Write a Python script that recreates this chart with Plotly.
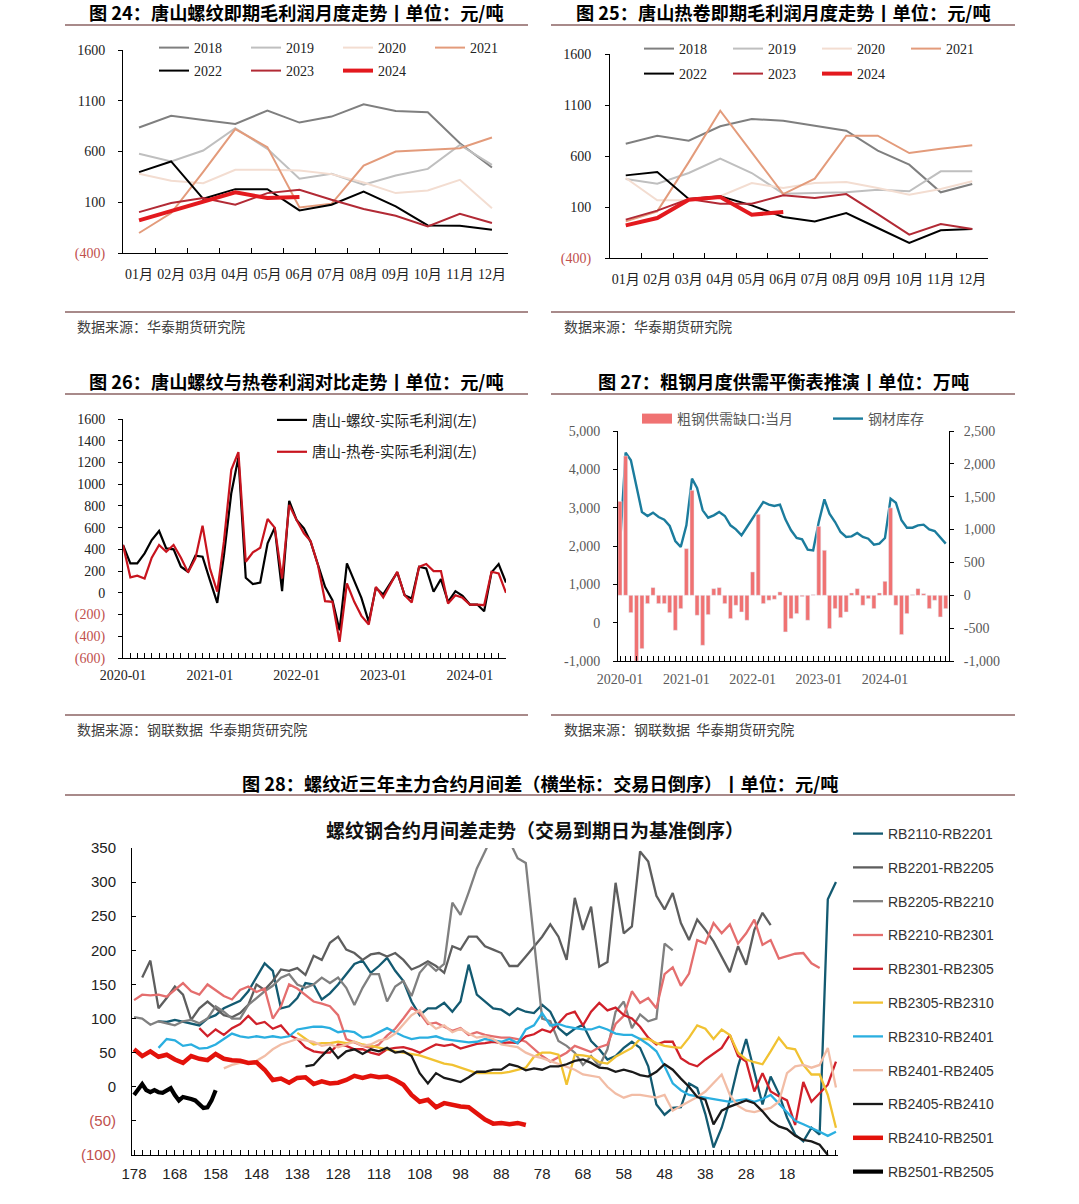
import plotly.graph_objects as go
import pandas as pd

W, H = 1079, 1204


def xd(a, b):
    return [a / W, b / W]


def yd(top, bottom):
    return [1 - bottom / H, 1 - top / H]


def px(x):
    return x / W


def py(y):
    return 1 - y / H


SERIF = "Liberation Serif, Noto Sans CJK SC, serif"
SANS = "Liberation Sans, Arial, Noto Sans CJK SC, sans-serif"
CJK = "Noto Sans CJK SC, sans-serif"
NEG = "#C0504D"
SEP = "#A88A8A"

# ---------------- data: chart 24 (rebar profit, by month) ----------------
MONTHS = ["01月", "02月", "03月", "04月", "05月", "06月", "07月", "08月", "09月", "10月", "11月", "12月"]
RB24_2018 = [836, 951, 911, 872, 1003, 885, 944, 1066, 1000, 987, 682, 442]
RB24_2019 = [577, 502, 610, 830, 626, 331, 380, 272, 364, 429, 665, 469]
RB24_2020 = [380, 311, 288, 420, 420, 413, 377, 295, 190, 216, 321, 42]
RB24_2021 = [-203, -7, 400, 820, 643, 49, 85, 462, 600, 616, 633, 738]
RB24_2022 = [397, 502, 134, 229, 229, 20, 75, 206, 59, -128, -131, -171]
RB24_2023 = [3, 92, 141, 75, 190, 223, 124, 33, -33, -138, -13, -105]
RB24_2024 = [-79, 10, 108, 197, 141, 151]

# ---------------- data: chart 25 (hot coil profit, by month) ----------------
HC25_2018 = [721, 799, 750, 891, 963, 946, 897, 848, 652, 515, 244, 325]
HC25_2019 = [375, 329, 433, 574, 433, 231, 237, 244, 270, 254, 450, 450]
HC25_2020 = [384, 165, 165, 205, 335, 286, 335, 345, 286, 221, 276, 352]
HC25_2021 = [-41, 57, 540, 1044, 636, 227, 378, 799, 799, 629, 672, 705]
HC25_2022 = [410, 443, 178, 205, 116, 2, -41, 41, -106, -253, -129, -116]
HC25_2023 = [-24, 64, 178, 133, 133, 214, 188, 227, 31, -171, -67, -116]
HC25_2024 = [-80, -8, 172, 198, 25, 51]

YEAR_NAMES = ["2018", "2019", "2020", "2021", "2022", "2023", "2024"]
YEAR_COLORS = ["#7F7F7F", "#BFBFBF", "#F3DDD1", "#E39B7B", "#000000", "#B22A35", "#E3191E"]
YEAR_WIDTHS = [2, 2, 2, 2, 2, 2, 4]

# ---------------- data: chart 26 (monthly, 2020-01 .. 2024-06) ----------------
MONTHS26 = pd.date_range("2020-01-01", periods=54, freq="MS")
REBAR26 = [440, 271, 271, 363, 486, 569, 409, 400, 240, 194,
           342, 332, 117, -92, 342, 917, 1246, 138, 80, 95,
           455, 600, 15, 846, 671, 594, 471, 249, 55, -68,
           -345, 271, 108, -46, -268, 46, -15, 86, 188, -22,
           -52, 240, 225, 10, 126, -83, 15, -28, -108, -108,
           -169, 188, 265, 95]
HRC26 = [440, 142, 157, 132, 323, 440, 378, 440, 323, 188,
         317, 618, 225, 10, 471, 1132, 1295, 286, 372, 415,
         680, 600, 132, 809, 671, 548, 477, 255, -77, -83,
         -452, 86, -83, -212, -292, 55, -43, 77, 194, -22,
         -89, 240, 265, 200, 200, -98, -22, -46, -108, -108,
         -114, 194, 178, 0]

# ---------------- data: chart 27 (monthly, 2020-01 .. 2024-12) ----------------
MONTHS27 = pd.date_range("2020-01-01", periods=60, freq="MS")
GAP27 = [1430, 2120, -264, -1000, -812, -127, 117, -127, -127, -264,
         -533, -203, 710, 1597, -304, -761, -294, 101, 117, -127,
         -355, -152, -254, -380, 355, 1232, -127, -76, -61, 51,
         -558, -355, -279, -20, -380, 10, 1049, 685, -507, -203,
         -340, -254, 35, 101, -152, -51, -203, 35, 213, 1330,
         -152, -598, -279, 10, 101, 25, -203, -76, -330, -203]
INV27 = [2017, 4435, 4235, 3583, 2887, 2783, 2870, 2757, 2687, 2522,
         2130, 1974, 2539, 3757, 3513, 2930, 2739, 2800, 2887, 2783,
         2539, 2435, 2278, 2496, 2730, 2930, 3148, 3078, 3043, 3078,
         2696, 2409, 2209, 2174, 1904, 1887, 2626, 3217, 2843, 2626,
         2365, 2235, 2252, 2339, 2235, 2191, 2035, 2061, 2209, 3235,
         3130, 2670, 2478, 2478, 2539, 2557, 2435, 2391, 2209, 2061]

# ---------------- data: chart 28 (spreads vs trading days to expiry) ----------------
# each series: first day, step (days), values read every `step` days counting down
S2110_2201 = [96, 95, 98, 95, 92, 90, 100, 105, 115, 120,
              126, 140, 160, 181, 170, 115, 118, 130, 152, 150,
              128, 137, 150, 165, 180, 185, 167, 177, 189, 170,
              155, 125, 105, 115, 115, 123, 110, 125, 179, 135,
              125, 115, 113, 105, 115, 110, 108, 120, 110, 86,
              76, 85, 91, 67, 55, 40, 45, 57, 66, 57,
              30, -26, -41, -31, -30, 5, -2, -40, -89, -60,
              -20, 30, 70, 20, -26, 15, -10, -45, -70, -80,
              -60, -70, 275, 300]
S2201_2205 = [160, 185, 115, 130, 147, 135, 98, 115, 125, 115,
              105, 102, 108, 120, 150, 142, 155, 172, 170, 174,
              164, 192, 186, 211, 220, 201, 196, 186, 194, 196,
              191, 196, 186, 172, 177, 184, 177, 167, 206, 201,
              220, 220, 206, 201, 196, 177, 177, 191, 205, 220,
              238, 220, 186, 277, 230, 264, 176, 183, 299, 225,
              235, 345, 330, 280, 260, 284, 240, 215, 245, 230,
              213, 191, 168, 206, 179, 230, 255, 237]
S2205_2210 = [102, 100, 91, 96, 93, 90, 96, 98, 93, 100,
              118, 110, 100, 100, 120, 130, 140, 148, 160, 165,
              150, 145, 150, 160, 152, 160, 145, 120, 145, 165,
              165, 125, 147, 155, 133, 167, 181, 170, 180, 270,
              252, 285, 320, 345, 370, 375, 360, 335, 328, 215,
              100, 96, 67, 60, 50, 32, 45, 30, 55, 110,
              125, 86, 106, 96, 100, 210, 200]
S2210_2301 = [127, 135, 134, 135, 132, 142, 152, 140, 135, 150,
              142, 133, 128, 142, 147, 139, 144, 100, 118, 150,
              144, 135, 125, 122, 118, 105, 70, 65, 60, 57,
              62, 75, 85, 100, 116, 108, 92, 94, 88, 82,
              86, 76, 80, 76, 74, 72, 72, 70, 66, 55,
              45, 37, 44, 50, 60, 56, 51, 58, 62, 92,
              104, 140, 123, 130, 115, 165, 175, 148, 166, 215,
              210, 240, 225, 238, 210, 225, 245, 208, 215, 188,
              191, 195, 196, 181, 174]
S2301_2305 = [86, 74, 84, 76, 86, 92, 104, 92, 95, 85,
              90, 76, 70, 58, 52, 50, 50, 62, 60, 55,
              55, 50, 47, 55, 57, 58, 55, 50, 56, 62,
              60, 62, 56, 60, 63, 64, 66, 64, 65, 64,
              74, 77, 84, 80, 93, 106, 110, 90, 110, 123,
              112, 116, 105, 100, 88, 72, 62, 66, 66, 42,
              34, 30, 40, 48, 57, 76, 45, 37, -7, 20,
              -7, -14, -20, -56, 7, -22, -10, 3, 37]
S2305_2310 = [79, 70, 62, 64, 64, 66, 64, 66, 62, 60,
              58, 55, 52, 50, 48, 46, 42, 38, 34, 32,
              28, 24, 20, 20, 20, 20, 22, 25, 28, 44,
              50, 50, 47, 3, 47, 46, 44, 36, 34, 44,
              50, 57, 70, 70, 64, 60, 58, 57, 72, 90,
              85, 70, 84, 76, 50, 40, 36, 33, 52, 72,
              57, 55, 32, 18, 18, -12, -60]
S2310_2401 = [57, 70, 68, 60, 62, 56, 57, 62, 70, 78,
              74, 72, 74, 72, 74, 72, 74, 84, 86, 88,
              88, 86, 80, 82, 80, 72, 74, 80, 86, 80,
              74, 70, 72, 72, 74, 70, 68, 66, 65, 66,
              70, 68, 66, 70, 64, 84, 90, 108, 90, 92,
              88, 86, 84, 84, 88, 84, 78, 76, 76, 70,
              62, 52, 30, 5, -5, -12, -14, -16, -18, -20,
              -22, -20, -18, -22, -18, -12, -25, -38, -50, -55,
              -60, -66, -72, -66]
S2401_2405 = [27, 32, 35, 35, 38, 45, 55, 62, 66, 70,
              68, 66, 60, 62, 58, 62, 66, 60, 62, 68,
              70, 78, 92, 105, 112, 95, 85, 90, 80, 85,
              78, 72, 74, 70, 62, 60, 58, 50, 45, 42,
              38, 34, 30, 25, 18, 16, 14, 0, -10, -16,
              -12, -12, -14, -16, -12, -35, -28, -22, -15, -7,
              5, 18, -12, -28, -35, -37, -34, -31, -22, 20,
              30, 32, 28, 32, 57, -1]
S2405_2410 = [30, 32, 45, 57, 42, 52, 55, 48, 55, 52,
              57, 50, 52, 45, 20, 5, 20, 13, 10, 7,
              14, 22, 22, 25, 25, 33, 30, 24, 27, 25,
              30, 30, 33, 38, 40, 35, 28, 27, 22, 25,
              22, 17, 15, 22, 33, 25, 12, 0, -15, -19,
              -55, -35, -29, -24, -20, -24, -36, -50, -58, -62,
              -72, -78, -80, -85, -100]
S2410_2501 = [55, 45, 52, 44, 47, 40, 35, 45, 41, 39,
              48, 41, 39, 38, 35, 36, 25, 10, 12, 6,
              13, 14, 4, 8, 5, 6, 10, 16, 13, 16,
              14, 15, 10, 3, -12, -22, -19, -30, -24, -27,
              -29, -30, -39, -48, -54, -53, -55, -53, -56]
S2501_2505 = [-12, -5, 4, -5, -8, -5, -8, -9, -6, -2,
              -12, -20, -15, -16, -18, -20, -25, -31, -30, -20, -5]

SPREADS = [
    ("RB2110-RB2201", S2110_2201, 172, 2, "#135A71", 2.3),
    ("RB2201-RB2205", S2201_2205, 176, 2, "#5E5E5E", 2.3),
    ("RB2205-RB2210", S2205_2210, 178, 2, "#808080", 2.3),
    ("RB2210-RB2301", S2210_2301, 178, 2, "#E46E6E", 2.3),
    ("RB2301-RB2305", S2301_2305, 162, 2, "#D0202A", 2.3),
    ("RB2305-RB2310", S2305_2310, 138, 2, "#F1C232", 2.3),
    ("RB2310-RB2401", S2310_2401, 172, 2, "#2BAFE0", 2.3),
    ("RB2401-RB2405", S2401_2405, 156, 2, "#F2BDA6", 2.3),
    ("RB2405-RB2410", S2405_2410, 136, 2, "#1A1A1A", 2.3),
    ("RB2410-RB2501", S2410_2501, 178, 2, "#E3120B", 4.5),
    ("RB2501-RB2505", S2501_2505, 178, 1, "#000000", 4.2),
]

fig = go.Figure()

# ---------------- chart 24 & 25 traces ----------------
rb_sets = [RB24_2018, RB24_2019, RB24_2020, RB24_2021, RB24_2022, RB24_2023, RB24_2024]
hc_sets = [HC25_2018, HC25_2019, HC25_2020, HC25_2021, HC25_2022, HC25_2023, HC25_2024]
for i, (nm, col, wd) in enumerate(zip(YEAR_NAMES, YEAR_COLORS, YEAR_WIDTHS)):
    fig.add_trace(go.Scatter(x=MONTHS[:len(rb_sets[i])], y=rb_sets[i], name=nm, mode="lines",
                             line=dict(color=col, width=wd), xaxis="x", yaxis="y",
                             legend="legend" if i < 4 else "legend2", hoverinfo="skip"))
for i, (nm, col, wd) in enumerate(zip(YEAR_NAMES, YEAR_COLORS, YEAR_WIDTHS)):
    fig.add_trace(go.Scatter(x=MONTHS[:len(hc_sets[i])], y=hc_sets[i], name=nm, mode="lines",
                             line=dict(color=col, width=wd), xaxis="x2", yaxis="y2",
                             legend="legend3" if i < 4 else "legend4", hoverinfo="skip"))

# ---------------- chart 26 ----------------
fig.add_trace(go.Scatter(x=MONTHS26, y=REBAR26, name="唐山-螺纹-实际毛利润(左)", mode="lines",
                         line=dict(color="#000000", width=2.2), xaxis="x3", yaxis="y3",
                         legend="legend5", legendgroup="a"))
fig.add_trace(go.Scatter(x=MONTHS26, y=HRC26, name="唐山-热卷-实际毛利润(左)", mode="lines",
                         line=dict(color="#C8141E", width=2.2), xaxis="x3", yaxis="y3",
                         legend="legend5", legendgroup="b"))

# ---------------- chart 27 ----------------
BAR_COLOR = "#F07272"
fig.add_trace(go.Bar(x=MONTHS27, y=GAP27, name="粗钢供需缺口:当月", marker_color=BAR_COLOR,
                     xaxis="x4", yaxis="y5", showlegend=False))
fig.add_trace(go.Scatter(x=[None], y=[None], name="粗钢供需缺口:当月", mode="lines",
                         line=dict(color=BAR_COLOR, width=10), xaxis="x4", yaxis="y4",
                         legend="legend6"))
fig.add_trace(go.Scatter(x=MONTHS27, y=INV27, name="钢材库存", mode="lines",
                         line=dict(color="#1B7C9D", width=2.4), xaxis="x4", yaxis="y4",
                         legend="legend6"))

# ---------------- chart 28 ----------------
for k, (nm, vals, start, step, col, wd) in enumerate(SPREADS):
    xs = [start - step * i for i in range(len(vals))]
    fig.add_trace(go.Scatter(x=xs, y=vals, name=nm, mode="lines",
                             line=dict(color=col, width=wd), xaxis="x5", yaxis="y6",
                             legend="legend7", legendgroup=f"g{k}"))


def paren(v):
    return f"<span style='color:{NEG}'>({abs(v)})</span>" if v < 0 else str(v)


def comma(v):
    return f"{v:,}"


axis_common = dict(showgrid=False, zeroline=False, showline=True, linecolor="#000000",
                   linewidth=1, tickcolor="#000000", fixedrange=True, automargin=False)

tf_serif = dict(family=SERIF, size=14, color="#222222")
tf_gray = dict(family=SERIF, size=14, color="#595959")

v24 = [-400, 100, 600, 1100, 1600]
v26 = list(range(-600, 1601, 200))
v27l = list(range(-1000, 5001, 1000))
v27r = list(range(-1000, 2501, 500))
v28 = list(range(-100, 351, 50))

fig.update_layout(
    width=W, height=H, margin=dict(l=0, r=0, t=0, b=0, autoexpand=False),
    paper_bgcolor="white", plot_bgcolor="white", showlegend=True, barmode="overlay",
    bargap=0.2,
    # chart 24
    xaxis=dict(axis_common, domain=xd(123, 508), anchor="y", type="category",
               categoryorder="array", categoryarray=MONTHS, range=[-0.5, 11.5],
               ticks="inside", tickson="boundaries", ticklen=5, tickfont=tf_serif,
               tickangle=0, ticklabelstandoff=8),
    yaxis=dict(axis_common, domain=yd(50, 253), anchor="x", range=[-400, 1600],
               tickvals=v24, ticktext=[paren(v) for v in v24], ticks="outside", ticklen=4,
               tickfont=tf_serif, ticklabelstandoff=10),
    # chart 25
    xaxis2=dict(axis_common, domain=xd(610, 988), anchor="y2", type="category",
                categoryorder="array", categoryarray=MONTHS, range=[-0.5, 11.5],
                ticks="inside", tickson="boundaries", ticklen=5, tickfont=tf_serif,
                tickangle=0, ticklabelstandoff=8),
    yaxis2=dict(axis_common, domain=yd(54, 258), anchor="x2", range=[-400, 1600],
                tickvals=v24, ticktext=[paren(v) for v in v24], ticks="outside", ticklen=4,
                tickfont=tf_serif, ticklabelstandoff=11),
    # chart 26
    xaxis3=dict(axis_common, domain=xd(123, 506), anchor="y3", type="date",
                range=["2020-01-01", "2024-06-01"], tick0="2020-01-01", dtick="M12",
                tickformat="%Y-%m", ticks="inside", ticklen=5, tickfont=tf_serif, tickangle=0,
                minor=dict(ticks="inside", dtick="M1", ticklen=5, tickcolor="#000000"),
                ticklabelstandoff=4),
    yaxis3=dict(axis_common, domain=yd(419, 658), anchor="x3", range=[-600, 1600],
                tickvals=v26, ticktext=[paren(v) for v in v26], ticks="outside", ticklen=4,
                tickfont=tf_serif, ticklabelstandoff=10),
    # chart 27
    xaxis4=dict(axis_common, domain=xd(618, 949), anchor="y4", type="date",
                range=["2019-12-21", "2024-12-19"], tick0="2020-01-01", dtick="M12",
                tickformat="%Y-%m", ticks="inside", ticklen=5, tickfont=tf_gray, tickangle=0,
                minor=dict(ticks="inside", dtick="M1", ticklen=5, tickcolor="#000000"),
                ticklabelstandoff=5),
    yaxis4=dict(axis_common, domain=yd(431, 661), anchor="x4", range=[-1000, 5000],
                tickvals=v27l, ticktext=[comma(v) for v in v27l], ticks="outside", ticklen=4,
                tickfont=tf_gray, ticklabelstandoff=10),
    yaxis5=dict(axis_common, domain=yd(431, 661), anchor="x4", overlaying="y4", side="right",
                range=[-1000, 2500], tickvals=v27r, ticktext=[comma(v) for v in v27r],
                ticks="outside", ticklen=4, tickfont=tf_gray, ticklabelstandoff=7),
    # chart 28
    xaxis5=dict(axis_common, domain=xd(132, 838), anchor="y6", range=[178.5, 5.5],
                tickvals=list(range(178, 17, -10)), ticks="inside", ticklen=5, tickangle=0,
                tickfont=dict(family=SANS, size=15, color="#222222"),
                minor=dict(ticks="inside", tickmode="linear", tick0=0, dtick=2, ticklen=5,
                           tickcolor="#000000"),
                ticklabelstandoff=5),
    yaxis6=dict(axis_common, domain=yd(848, 1155), anchor="x5", range=[-100, 350],
                tickvals=v28, ticktext=[paren(v) for v in v28], ticks="inside", ticklen=4,
                tickfont=dict(family=SANS, size=15, color="#222222"), ticklabelstandoff=12),
    legend=dict(orientation="h", x=px(154), xanchor="left", y=py(48), yanchor="middle",
                entrywidth=47, entrywidthmode="pixels", font=tf_serif, bgcolor="rgba(0,0,0,0)"),
    legend2=dict(orientation="h", x=px(154), xanchor="left", y=py(71), yanchor="middle",
                 entrywidth=47, entrywidthmode="pixels", font=tf_serif, bgcolor="rgba(0,0,0,0)"),
    legend3=dict(orientation="h", x=px(639), xanchor="left", y=py(49), yanchor="middle",
                 entrywidth=44, entrywidthmode="pixels", font=tf_serif, bgcolor="rgba(0,0,0,0)"),
    legend4=dict(orientation="h", x=px(639), xanchor="left", y=py(74), yanchor="middle",
                 entrywidth=44, entrywidthmode="pixels", font=tf_serif, bgcolor="rgba(0,0,0,0)"),
    legend5=dict(orientation="v", x=px(272), xanchor="left", y=py(404), yanchor="top",
                 tracegroupgap=10, font=dict(family=CJK, size=14.5, color="#222222"),
                 bgcolor="rgba(0,0,0,0)"),
    legend6=dict(orientation="h", x=px(637), xanchor="left", y=py(419), yanchor="middle",
                 entrywidth=146, entrywidthmode="pixels",
                 font=dict(family=CJK, size=14, color="#595959"), bgcolor="rgba(0,0,0,0)"),
    legend7=dict(orientation="v", x=px(848), xanchor="left", y=py(818), yanchor="top",
                 tracegroupgap=12.6, font=dict(family=SANS, size=14, color="#333333"),
                 bgcolor="rgba(0,0,0,0)"),
)

# ---------------- titles, separators, sources ----------------
TITLES = [
    ("图 24：唐山螺纹即期毛利润月度走势丨单位：元/吨", 296, 12),
    ("图 25：唐山热卷即期毛利润月度走势丨单位：元/吨", 783, 12),
    ("图 26：唐山螺纹与热卷利润对比走势丨单位：元/吨", 296, 381),
    ("图 27：粗钢月度供需平衡表推演丨单位：万吨", 783, 381),
    ("图 28：螺纹近三年主力合约月间差（横坐标：交易日倒序）丨单位：元/吨", 540, 783),
]
SOURCES = [
    ("数据来源：华泰期货研究院", 75, 326),
    ("数据来源：华泰期货研究院", 562, 326),
    ("数据来源：钢联数据  华泰期货研究院", 75, 729),
    ("数据来源：钢联数据  华泰期货研究院", 562, 729),
]
SEPARATORS = [
    (65, 528, 25), (551, 1015, 25), (65, 528, 312), (551, 1015, 312),
    (65, 528, 394), (551, 1015, 394), (65, 528, 715), (551, 1015, 715),
    (65, 1015, 795),
]

annotations = []
for txt, x, y in TITLES:
    annotations.append(dict(text=f"<b>{txt}</b>", x=px(x), y=py(y), xref="paper", yref="paper",
                            xanchor="center", yanchor="middle", showarrow=False,
                            font=dict(family=CJK, size=18.2, color="#000000")))
for txt, x, y in SOURCES:
    annotations.append(dict(text=txt, x=px(x), y=py(y), xref="paper", yref="paper",
                            xanchor="left", yanchor="middle", showarrow=False,
                            font=dict(family=CJK, size=14, color="#404040")))
annotations.append(dict(text="<b>螺纹钢合约月间差走势（交易到期日为基准倒序）</b>", x=px(535), y=py(829),
                        xref="paper", yref="paper", xanchor="center", yanchor="middle",
                        showarrow=False, font=dict(family=CJK, size=19, color="#111111")))
fig.update_layout(annotations=annotations)

shapes = []
for x0, x1, y in SEPARATORS:
    shapes.append(dict(type="line", xref="paper", yref="paper", x0=px(x0), x1=px(x1),
                       y0=py(y), y1=py(y), line=dict(color=SEP, width=2)))
fig.update_layout(shapes=shapes)

fig.write_html("out.html", config={"displayModeBar": False, "staticPlot": True},
               post_script="document.body.style.margin='0';document.body.style.overflow='hidden';")
